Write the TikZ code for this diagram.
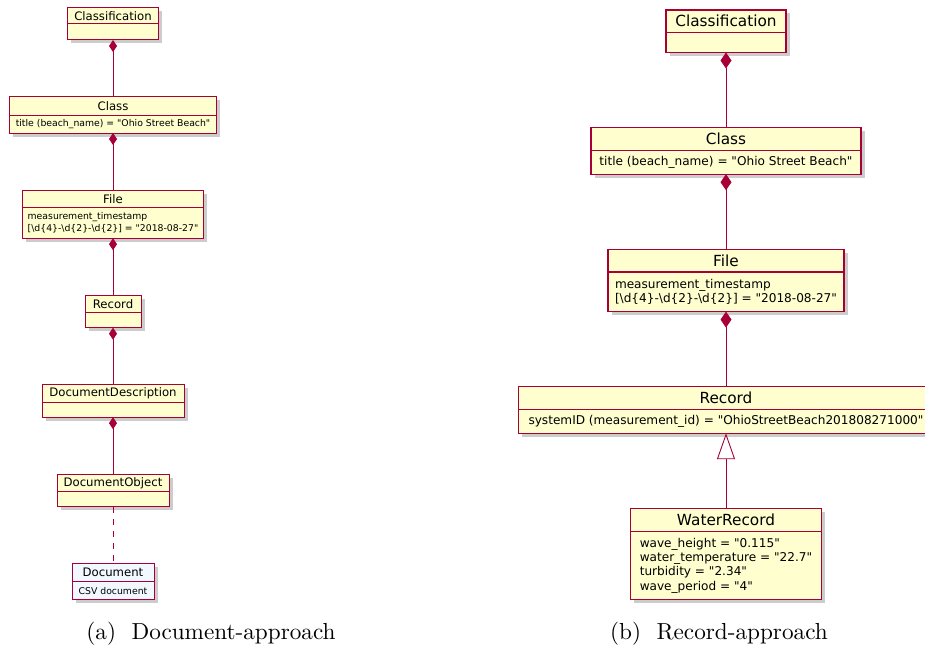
\documentclass[tikz,border=0pt]{standalone}
\usepackage{fontspec}
\usepackage{graphicx}
\newfontfamily\umlfont[Ligatures=TeXOff]{DejaVu Sans}
\usetikzlibrary{arrows.meta,positioning,shadows}
\definecolor{umlred}{HTML}{A80036}
\definecolor{umlfill}{HTML}{FEFECE}
\definecolor{docfill}{HTML}{F1F8FF}
\newcommand{\subcaptext}[1]{\scalebox{2.32}{\fontsize{10}{12}\selectfont #1}}

\begin{document}
\begin{tikzpicture}[x=1pt,y=1pt,
  cls/.style={draw=umlred,fill=umlfill,inner sep=0pt,outer sep=0pt,
    drop shadow={shadow xshift=3.5pt,shadow yshift=-3.5pt,fill=black!40}},
  titleA/.style={cls,line width=1pt,font=\umlfont\fontsize{11.7}{14}\selectfont},
  attrA/.style={cls,line width=1pt,font=\umlfont\fontsize{9.3}{11.3}\selectfont,align=left,inner xsep=2pt},
  titleB/.style={cls,line width=1.4pt,font=\umlfont\fontsize{15.3}{18}\selectfont},
  attrB/.style={cls,line width=1.4pt,font=\umlfont\fontsize{12.1}{14.3}\selectfont,align=left,inner xsep=2pt},
  lnk/.style={draw=umlred,line width=0.9pt},
  compA/.style={lnk,{Diamond[length=12pt,width=8pt]}-},
  compB/.style={lnk,{Diamond[length=16pt,width=11pt]}-},
  gen/.style={lnk,-{Triangle[length=26pt,width=18pt,fill=white]}},
  dep/.style={lnk,dash pattern=on 6pt off 6pt},
  subcap/.style={inner sep=0pt,anchor=base}]
  \useasboundingbox (0,0) rectangle (925,-650);

  % (a) document-approach
  \begin{scope}[node distance=57pt]
    \node[titleA,minimum width=91pt,minimum height=16pt,anchor=north] (clfA) at (113,-8) {Classification};
    \node[attrA,minimum width=91pt,minimum height=16pt,below=0pt of clfA] (clfAb) {};
    \node[titleA,minimum width=207pt,minimum height=18.5pt,below=of clfAb] (clsA) {Class};
    \node[attrA,minimum width=207pt,minimum height=17.5pt,below=0pt of clsA] (clsAb) {title (beach\_name) = "Ohio Street Beach"};
    \node[titleA,minimum width=181pt,minimum height=17.5pt,below=of clsAb] (fileA) {File};
    \node[attrA,minimum width=181pt,minimum height=30.7pt,below=0pt of fileA] (fileAb) {measurement\_timestamp\\{}[\textbackslash d\{4\}-\textbackslash d\{2\}-\textbackslash d\{2\}] = "2018-08-27"};
    \node[titleA,minimum width=56pt,minimum height=17.5pt,below=of fileAb] (recA) {Record};
    \node[attrA,minimum width=56pt,minimum height=15pt,below=0pt of recA] (recAb) {};
    \node[titleA,minimum width=142pt,minimum height=18pt,below=of recAb] (ddA) {DocumentDescription};
    \node[attrA,minimum width=142pt,minimum height=14.5pt,below=0pt of ddA] (ddAb) {};
    \node[titleA,minimum width=112pt,minimum height=17.5pt,below=of ddAb] (doA) {DocumentObject};
    \node[attrA,minimum width=112pt,minimum height=15pt,below=0pt of doA] (doAb) {};
    \node[titleA,fill=docfill,minimum width=82pt,minimum height=18pt,below=of doAb] (docA) {Document};
    \node[attrA,fill=docfill,minimum width=82pt,minimum height=17.7pt,below=0pt of docA] (docAb) {CSV document};
  \end{scope}
  \draw[compA] (clfAb) -- (clsA);
  \draw[compA] (clsAb) -- (fileA);
  \draw[compA] (fileAb) -- (recA);
  \draw[compA] (recAb) -- (ddA);
  \draw[compA] (ddAb) -- (doA);
  \draw[dep] (doAb) -- (docA);

  % (b) record-approach
  \begin{scope}[node distance=75pt]
    \node[titleB,minimum width=120pt,minimum height=22.5pt,anchor=north] (clfB) at (726,-10) {Classification};
    \node[attrB,minimum width=120pt,minimum height=20pt,below=0pt of clfB] (clfBb) {};
    \node[titleB,minimum width=270pt,minimum height=22.7pt,below=of clfBb] (clsB) {Class};
    \node[attrB,minimum width=270pt,minimum height=24pt,below=0pt of clsB] (clsBb) {title (beach\_name) = "Ohio Street Beach"};
    \node[titleB,minimum width=236pt,minimum height=22.7pt,below=of clsBb] (fileB) {File};
    \node[attrB,minimum width=236pt,minimum height=39.7pt,below=0pt of fileB] (fileBb) {measurement\_timestamp\\{}[\textbackslash d\{4\}-\textbackslash d\{2\}-\textbackslash d\{2\}] = "2018-08-27"};
    \node[titleB,minimum width=415pt,minimum height=22.6pt,below=of fileBb] (recB) {Record};
    \node[attrB,minimum width=415pt,minimum height=24pt,below=0pt of recB] (recBb) {systemID (measurement\_id) = "OhioStreetBeach201808271000"};
    \node[titleB,minimum width=191pt,minimum height=23.3pt,below=of recBb] (wrB) {WaterRecord};
    \node[attrB,minimum width=191pt,minimum height=68pt,below=0pt of wrB] (wrBb) {wave\_height = "0.115"\\water\_temperature = "22.7"\\turbidity = "2.34"\\wave\_period = "4"};
  \end{scope}
  \draw[compB] (clfBb) -- (clsB);
  \draw[compB] (clsBb) -- (fileB);
  \draw[compB] (fileBb) -- (recB);
  \draw[gen] (wrB) -- (recBb);

  \node[subcap] (capA) at (211,-639) {\subcaptext{(a)\ \ Document-approach}};
  \node[subcap] (capB) at (719,-639) {\subcaptext{(b)\ \ Record-approach}};
\end{tikzpicture}
\end{document}
